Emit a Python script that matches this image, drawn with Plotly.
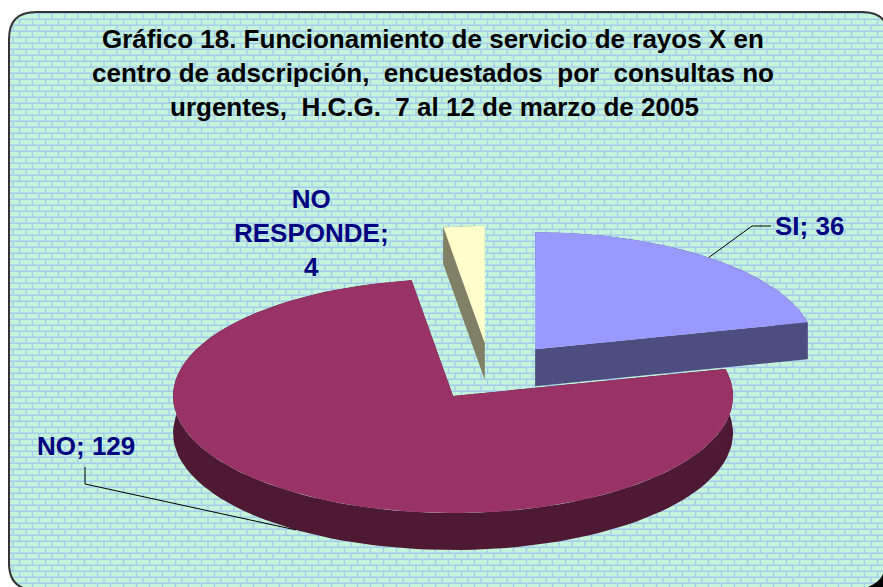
"""
Gráfico 18: pastel 3D separado, dibujado con Scatter porque go.Pie no tiene perspectiva.
"""

import numpy as np
import plotly.graph_objects as go

# datos
CATEGORIES = ["SI", "NO", "NO RESPONDE"]
VALUES = [36, 129, 4]
TITLE_LINES = [
    "Gráfico 18. Funcionamiento de servicio de rayos X en",
    "centro de adscripción,\u00a0 encuestados\u00a0 por\u00a0 consultas no",
    "urgentes,\u00a0 H.C.G.\u00a0 7 al 12 de marzo de 2005",
]

# colores
TOP_COLORS = ["#9999FF", "#993366", "#FFFFCC"]
SIDE_COLORS = ["#4D4D80", "#4D1933", "#808066"]
BRICK_BG = "#C6F4DA"
BRICK_LINE = "#A4CCEC"
LABEL_COLOR = "#000080"

# geometría del pastel, en píxeles de la página
W, H = 883, 587
CX, CY = 492, 372
RX, RY = 280, 117
DEPTH = 37
EXPLODE = 69.5
NUDGE_X = [0, 0, -2]  # la porción pequeña queda un poco más a la izquierda

# marco redondeado (se sale un poco por la derecha y por abajo)
FX0, FY0, FX1, FY1, FR = 9, 12, 889, 590, 27
BRICK_W, BRICK_H = 13, 6


def slice_outline(a0, a1, ox, oy):
    """Borde de una porción; los ángulos van en grados desde las 12, en sentido horario."""
    t = np.radians(np.linspace(a0, a1, 120))
    xs = ox + RX * np.sin(t)
    ys = oy - RY * np.cos(t)
    return xs, ys


def frame_limits(y):
    """Límites horizontales del marco a una altura y."""
    dy = 0
    if y < FY0 + FR:
        dy = FY0 + FR - y
    elif y > FY1 - FR:
        dy = y - (FY1 - FR)
    inset = FR - np.sqrt(max(FR**2 - dy**2, 0))
    return FX0 + inset, FX1 - inset


def brick_path():
    parts = []
    row = 0
    y = FY0 + 1.3
    while y < FY1:
        left, right = frame_limits(y)
        parts.append(f"M{left:.1f} {y:.1f}L{right:.1f} {y:.1f}")
        shift = (row % 2) * BRICK_W / 2
        x = FX0 + 4 + shift
        while x < right:
            if x > left:
                parts.append(f"M{x:.1f} {y:.1f}L{x:.1f} {y + BRICK_H:.1f}")
            x += BRICK_W
        y += BRICK_H
        row += 1
    return "".join(parts)


def frame_path():
    r = FR
    return (
        f"M{FX0 + r} {FY0}L{FX1 - r} {FY0}Q{FX1} {FY0} {FX1} {FY0 + r}"
        f"L{FX1} {FY1 - r}Q{FX1} {FY1} {FX1 - r} {FY1}"
        f"L{FX0 + r} {FY1}Q{FX0} {FY1} {FX0} {FY1 - r}"
        f"L{FX0} {FY0 + r}Q{FX0} {FY0} {FX0 + r} {FY0}Z"
    )


def add_polygon(fig, xs, ys, color, **kwargs):
    fig.add_trace(go.Scatter(
        x=xs, y=ys, mode="lines", fill="toself",
        fillcolor=color, line=dict(width=0), **kwargs,
    ))


fig = go.Figure()

total = sum(VALUES)
start = 0.0
anchors = {}
for i, (name, value) in enumerate(zip(CATEGORIES, VALUES)):
    sweep = value / total * 360
    mid = np.radians(start + sweep / 2)
    ox = CX + EXPLODE * np.sin(mid) + NUDGE_X[i]
    oy = CY - EXPLODE * np.cos(mid) * RY / RX
    xs, ys = slice_outline(start, start + sweep, ox, oy)

    # costado: borde exterior y las dos caras radiales, cada una en su traza
    add_polygon(fig, [*xs, *xs[::-1]], [*ys, *(ys[::-1] + DEPTH)], SIDE_COLORS[i], hoverinfo="skip")
    for ex, ey in ((xs[0], ys[0]), (xs[-1], ys[-1])):
        add_polygon(
            fig, [ox, ex, ex, ox, ox], [oy, ey, ey + DEPTH, oy + DEPTH, oy],
            SIDE_COLORS[i], hoverinfo="skip",
        )
    add_polygon(
        fig, [ox, *xs, ox], [oy, *ys, oy], TOP_COLORS[i],
        name=name, text=f"{name}; {value}", hoveron="fills", hoverinfo="text",
    )

    ax = ox + RX * np.sin(mid)
    ay = oy - RY * np.cos(mid)
    if np.cos(mid) < 0:
        ay += DEPTH
    anchors[name] = (ax, ay)
    start += sweep

# líneas guía de las etiquetas
si_x, si_y = anchors["SI"]
no_x, no_y = anchors["NO"]
fig.add_trace(go.Scatter(
    x=[si_x, 752, 771, None, 85, 85, no_x],
    y=[si_y, 226, 226, None, 467, 484, no_y],
    mode="lines", line=dict(color="#000000", width=1), hoverinfo="skip",
))

shapes = [
    dict(type="path", path=frame_path(), fillcolor=BRICK_BG, line=dict(width=0), layer="below"),
    dict(type="path", path=brick_path(), line=dict(color=BRICK_LINE, width=1.4), layer="below"),
    dict(type="path", path=frame_path(), line=dict(color="#333333", width=2), layer="below"),
    dict(type="path", path="M868 587Q880 582 883 574L883 587Z", fillcolor="#000000",
         line=dict(width=0), layer="below"),
]

annotations = []
for text, x, y in zip(TITLE_LINES, (433, 432.5, 434), (39, 73, 107)):
    annotations.append(dict(
        text=text, x=x, y=y, xref="x", yref="y", showarrow=False,
        font=dict(family="Liberation Sans", size=26, color="#000000", weight="bold"),
    ))
label_pos = {"SI": (809, 226), "NO": (85.5, 446), "NO RESPONDE": (311, 233)}
for name, value in zip(CATEGORIES, VALUES):
    label = f"{name}; {value}"
    if name == "NO RESPONDE":
        label = label.replace(" ", "<br>")
    annotations.append(dict(
        text=label, x=label_pos[name][0], y=label_pos[name][1],
        xref="x", yref="y", showarrow=False,
        font=dict(family="Liberation Sans", size=26, color=LABEL_COLOR, weight="bold"),
    ))

fig.update_layout(
    width=W,
    height=H,
    margin=dict(l=0, r=0, t=0, b=0),
    paper_bgcolor="white",
    plot_bgcolor="rgba(0,0,0,0)",
    showlegend=False,
    xaxis=dict(range=[0, W], visible=False, fixedrange=True),
    yaxis=dict(range=[H, 0], visible=False, fixedrange=True),
    shapes=shapes,
    annotations=annotations,
)

fig.write_html(
    "out.html",
    config=dict(displayModeBar=False),
    post_script="document.body.style.margin='0';document.body.style.overflow='hidden';",
)
